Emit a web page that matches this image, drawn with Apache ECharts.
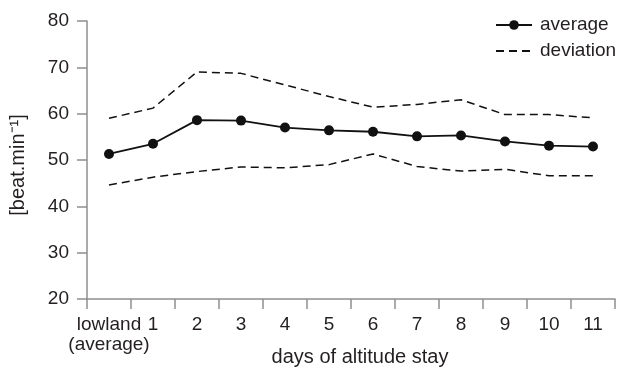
<!DOCTYPE html>
<html>
<head>
<meta charset="utf-8">
<script src="https://cdn.jsdelivr.net/npm/echarts@6/dist/echarts.min.js"></script>
<style>
  html, body { margin: 0; padding: 0; background: #fff; }
  #chart { width: 623px; height: 368px; }
</style>
</head>
<body>
<div id="chart"></div>
<script>
// categories on the x axis
var days = ['lowland\n(average)', '1', '2', '3', '4', '5', '6', '7', '8', '9', '10', '11'];
// heart rate values
var average = [51.3, 53.5, 58.6, 58.5, 57.0, 56.4, 56.1, 55.1, 55.3, 54.0, 53.1, 52.9];
var upperDev = [59.0, 61.2, 69.0, 68.7, 66.2, 63.7, 61.4, 62.0, 63.0, 59.8, 59.8, 59.1];
var lowerDev = [44.6, 46.3, 47.5, 48.5, 48.3, 49.0, 51.3, 48.6, 47.6, 48.0, 46.6, 46.6];

var chartDom = document.getElementById('chart');
var myChart = echarts.init(chartDom);

var textColor = '#231f20';
var axisColor = '#8f8f8f';
var font = 'Liberation Sans';

var option = {
  animation: false,
  grid: { left: 87, right: 8, top: 21, bottom: 69, outerBoundsMode: 'none', containLabel: false },
  legend: {
    orient: 'vertical',
    left: 490,
    top: 10,
    itemWidth: 36,
    itemHeight: 12,
    itemGap: 6,
    data: [
      { name: 'average' },
      { name: 'deviation', itemStyle: { opacity: 0 } }
    ],
    textStyle: { color: textColor, fontSize: 19, fontFamily: font, lineHeight: 20, padding: [0, 0, 0, 3] }
  },
  xAxis: {
    type: 'category',
    data: days,
    boundaryGap: true,
    name: 'days of altitude stay',
    nameLocation: 'middle',
    nameGap: 48,
    nameMoveOverlap: false,
    nameTextStyle: { color: textColor, fontSize: 20, fontFamily: font, padding: [0, 0, 0, 18] },
    axisLine: { lineStyle: { color: axisColor, width: 1.5 } },
    axisTick: { show: true, length: 10, lineStyle: { color: axisColor, width: 1.5 } },
    axisLabel: {
      color: textColor, fontSize: 19, fontFamily: font, margin: 16, lineHeight: 20,
      interval: 0
    },
    splitLine: { show: false }
  },
  yAxis: {
    type: 'value',
    min: 20,
    max: 80,
    interval: 10,
    name: '[beat.min\u207B\u00B9]',
    nameLocation: 'middle',
    nameGap: 59,
    nameMoveOverlap: false,
    nameTextStyle: { color: textColor, fontSize: 20, fontFamily: font, padding: [0, 10, 0, 0] },
    axisLine: { show: true, lineStyle: { color: axisColor, width: 1.5 } },
    axisTick: { show: true, length: 10, lineStyle: { color: axisColor, width: 1.5 } },
    axisLabel: { color: textColor, fontSize: 19, fontFamily: font, margin: 18 },
    splitLine: { show: false }
  },
  series: [
    {
      name: 'average',
      type: 'line',
      data: average,
      symbol: 'circle',
      symbolSize: 10,
      itemStyle: { color: '#111' },
      lineStyle: { color: '#111', width: 1.8 },
      z: 3
    },
    {
      name: 'deviation',
      type: 'line',
      data: upperDev,
      symbol: 'none',
      itemStyle: { color: '#111' },
      lineStyle: { color: '#111', width: 1.5, type: [8, 5] }
    },
    {
      name: 'deviation',
      type: 'line',
      data: lowerDev,
      symbol: 'none',
      itemStyle: { color: '#111' },
      lineStyle: { color: '#111', width: 1.5, type: [8, 5] }
    }
  ]
};

myChart.setOption(option);

window.addEventListener('resize', function () {
  myChart.resize();
});
</script>
</body>
</html>
